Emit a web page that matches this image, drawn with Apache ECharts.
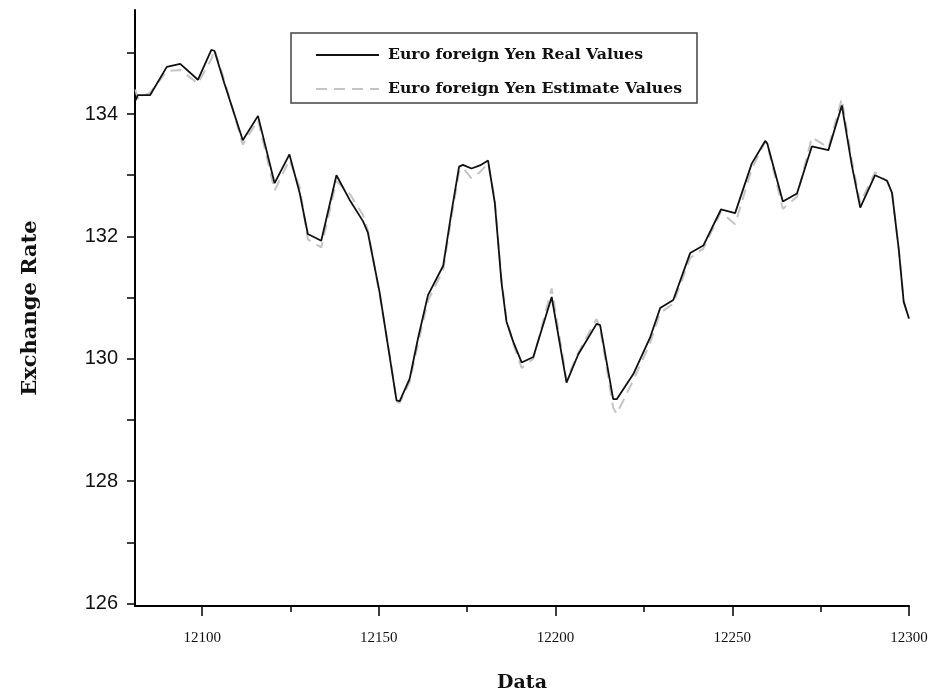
<!DOCTYPE html>
<html>
<head>
<meta charset="utf-8">
<script src="https://cdn.jsdelivr.net/npm/echarts@6/dist/echarts.min.js"></script>
<style>
  html, body { margin: 0; padding: 0; background: #fff; }
  #chart { width: 935px; height: 698px; }
</style>
</head>
<body>
<div id="chart"></div>
<script>
// Observation index (x) for each vertex of the two curves
const xValues = [
  12081.1, 12081.8, 12085.3, 12090.0, 12093.8, 12098.8, 12102.6, 12103.5, 12106.3, 12111.5,
  12115.8, 12120.5, 12124.7, 12127.6, 12129.9, 12133.7, 12138.0, 12141.7, 12145.5, 12146.9,
  12150.2, 12153.1, 12155.0, 12155.9, 12158.7, 12161.1, 12163.9, 12168.2, 12170.5, 12172.7,
  12173.8, 12176.2, 12178.6, 12180.9, 12182.8, 12184.7, 12186.1, 12188.0, 12190.4, 12193.7,
  12198.9, 12203.1, 12206.4, 12211.6, 12212.6, 12216.3, 12217.3, 12222.0, 12226.7, 12229.6,
  12233.3, 12238.1, 12241.8, 12246.8, 12250.8, 12255.5, 12259.3, 12259.9, 12264.3, 12268.3,
  12272.5, 12277.2, 12281.0, 12283.8, 12286.2, 12290.4, 12293.8, 12295.2, 12297.1, 12298.5,
  12300.0
];

// Observed EUR/JPY exchange rate
const realValues = [
  134.22, 134.31, 134.31, 134.77, 134.82, 134.56, 135.05, 135.03, 134.50, 133.57,
  133.97, 132.87, 133.34, 132.71, 132.04, 131.93, 133.00, 132.60, 132.25, 132.06,
  131.09, 130.02, 129.32, 129.31, 129.67, 130.34, 131.04, 131.52, 132.38, 133.14,
  133.17, 133.11, 133.16, 133.24, 132.55, 131.25, 130.61, 130.28, 129.94, 130.03,
  131.01, 129.61, 130.07, 130.57, 130.55, 129.34, 129.34, 129.75, 130.34, 130.83,
  130.96, 131.73, 131.85, 132.44, 132.38, 133.19, 133.56, 133.52, 132.57, 132.70,
  133.47, 133.41, 134.14, 133.17, 132.47, 133.00, 132.91, 132.71, 131.79, 130.93,
  130.66
];

// Model estimate of the same rate
const estimateValues = [
  134.40, 134.25, 134.35, 134.70, 134.72, 134.50, 134.90, 135.05, 134.55, 133.50,
  133.90, 132.75, 133.25, 132.80, 131.95, 131.82, 132.90, 132.70, 132.35, 132.10,
  131.05, 130.05, 129.30, 129.28, 129.62, 130.25, 130.95, 131.45, 132.30, 133.05,
  133.12, 132.95, 133.05, 133.20, 132.60, 131.30, 130.65, 130.25, 129.85, 130.00,
  131.15, 129.65, 130.10, 130.65, 130.50, 129.20, 129.10, 129.65, 130.25, 130.75,
  130.90, 131.65, 131.80, 132.40, 132.20, 133.10, 133.55, 133.50, 132.45, 132.65,
  133.62, 133.45, 134.25, 133.25, 132.55, 133.05, 132.90, 132.70, 131.80, 130.95,
  130.65
];

// Axis ticks and labels
const xTickValues = [12100, 12150, 12200, 12250, 12300];
const xMinorTickValues = [12125, 12175, 12225, 12275];
const yTickValues = [126, 127, 128, 129, 130, 131, 132, 133, 134, 135];
const yLabelValues = [126, 128, 130, 132, 134];

const seriesNames = ['Euro foreign Yen Real Values', 'Euro foreign Yen Estimate Values'];

const realData = xValues.map((x, i) => [x, realValues[i]]);
const estimateData = xValues.map((x, i) => [x, estimateValues[i]]);

const serif = 'DejaVu Serif';
const chart = echarts.init(document.getElementById('chart'), null, { renderer: 'canvas' });

chart.setOption({
  animation: false,
  backgroundColor: '#ffffff',
  grid: { left: 135, right: 26, top: 10, bottom: 83, containLabel: false },
  legend: {
    left: 291,
    top: 33,
    orient: 'vertical',
    data: seriesNames,
    itemWidth: 63,
    itemHeight: 14,
    itemGap: 18,
    padding: [14, 15, 6, 24],
    borderColor: '#444',
    borderWidth: 1.5,
    backgroundColor: '#fff',
    itemStyle: { opacity: 0 },
    textStyle: {
      fontFamily: serif,
      fontWeight: 'bold',
      fontSize: 15.7,
      color: '#111',
      padding: [0, 0, 0, 4]
    }
  },
  xAxis: [
    {
      type: 'value',
      min: 12081,
      max: 12300,
      name: 'Data',
      nameLocation: 'middle',
      nameGap: 68,
      nameTextStyle: { fontFamily: serif, fontWeight: 'bold', fontSize: 19, color: '#111' },
      axisLine: { show: true, lineStyle: { color: '#000', width: 2 } },
      axisTick: { show: true, length: 10, lineStyle: { color: '#000', width: 1.5 }, customValues: xTickValues },
      axisLabel: {
        customValues: xTickValues,
        margin: 25,
        fontFamily: 'Liberation Serif',
        fontSize: 15,
        color: '#111',
        formatter: (v) => String(v)
      },
      splitLine: { show: false }
    },
    {
      type: 'value',
      min: 12081,
      max: 12300,
      position: 'bottom',
      axisLine: { show: false },
      axisTick: { show: true, length: 6, lineStyle: { color: '#000', width: 1.5 }, customValues: xMinorTickValues },
      axisLabel: { show: false },
      splitLine: { show: false }
    }
  ],
  yAxis: {
    type: 'value',
    min: 125.96,
    max: 135.7,
    name: 'Exchange Rate',
    nameLocation: 'middle',
    nameRotate: 90,
    nameGap: 94,
    nameTextStyle: { fontFamily: serif, fontWeight: 'bold', fontSize: 21, color: '#111' },
    axisLine: { show: true, lineStyle: { color: '#000', width: 2 } },
    axisTick: { show: true, length: 8, lineStyle: { color: '#000', width: 1.5 }, customValues: yTickValues },
    axisLabel: { customValues: yLabelValues, margin: 17, fontFamily: 'Liberation Sans', fontSize: 20, color: '#111' },
    splitLine: { show: false }
  },
  series: [
    {
      name: seriesNames[0],
      type: 'line',
      data: realData,
      symbol: 'none',
      z: 3,
      itemStyle: { color: '#111' },
      lineStyle: { color: '#111', width: 1.8 }
    },
    {
      name: seriesNames[1],
      type: 'line',
      data: estimateData,
      symbol: 'none',
      z: 2,
      itemStyle: { color: '#c4c4c4' },
      lineStyle: { color: '#c4c4c4', width: 2, type: [11, 7] }
    }
  ]
});
</script>
</body>
</html>
